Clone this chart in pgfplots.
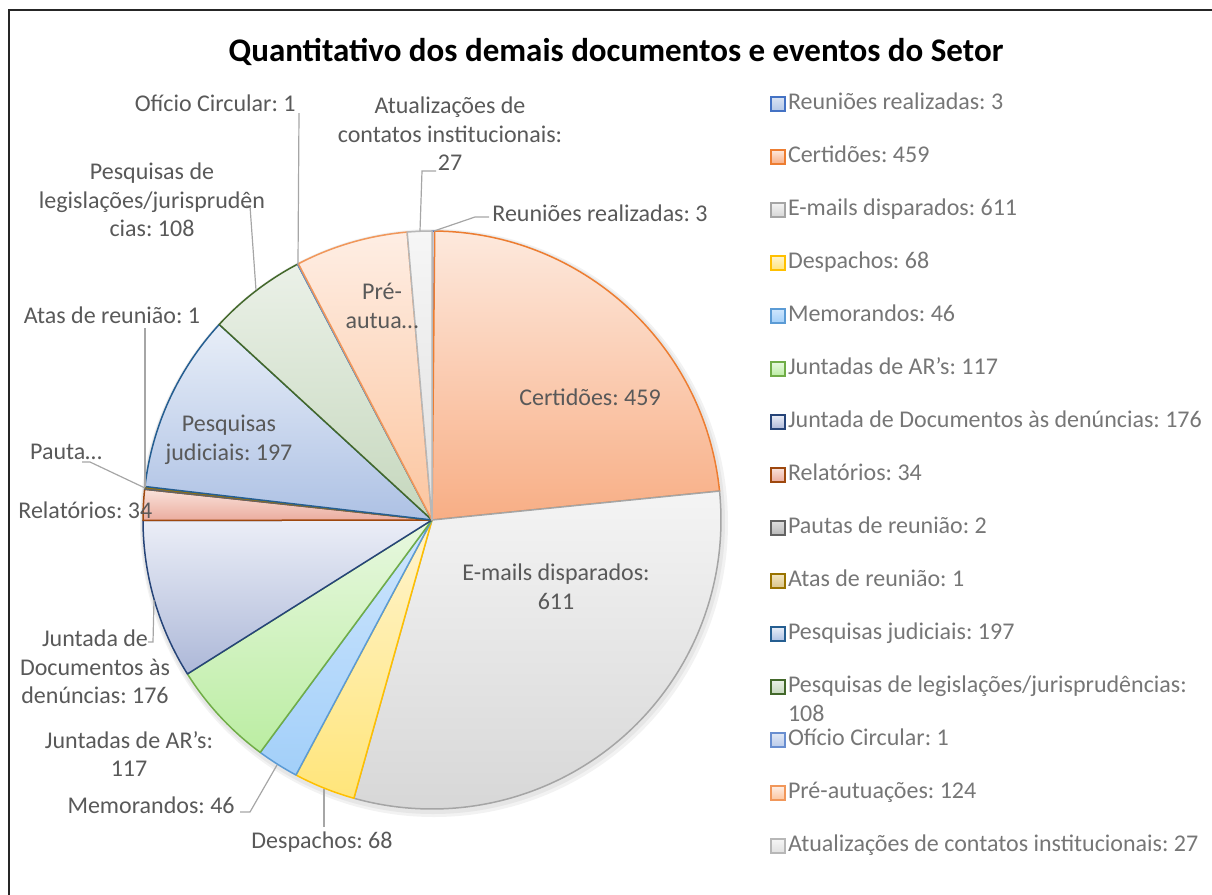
\documentclass[border=0pt]{standalone}
\usepackage{fontspec}
\setmainfont{Carlito}
\usepackage{pgfplots}
\usepackage{pgfplotstable}
\pgfplotsset{compat=1.18}
\frenchspacing

% slice colours: d = border, t = top of gradient, b = bottom of gradient
\definecolor{dA}{HTML}{4472C4}\definecolor{tA}{HTML}{DAE3F3}\definecolor{bA}{HTML}{B4C7E7}
\definecolor{dB}{HTML}{ED7D31}\definecolor{tB}{HTML}{FDE9DD}\definecolor{bB}{HTML}{F8AE85}
\definecolor{dC}{HTML}{A5A5A5}\definecolor{tC}{HTML}{F4F4F4}\definecolor{bC}{HTML}{D6D6D6}
\definecolor{dD}{HTML}{FFC000}\definecolor{tD}{HTML}{FFF4CF}\definecolor{bD}{HTML}{FFE57A}
\definecolor{dE}{HTML}{5B9BD5}\definecolor{tE}{HTML}{CFE6FD}\definecolor{bE}{HTML}{A2CFF9}
\definecolor{dF}{HTML}{70AD47}\definecolor{tF}{HTML}{E8F8E0}\definecolor{bF}{HTML}{BBEDA2}
\definecolor{dG}{HTML}{264478}\definecolor{tG}{HTML}{EBEEF7}\definecolor{bG}{HTML}{ADB8D8}
\definecolor{dH}{HTML}{9E480E}\definecolor{tH}{HTML}{F9E2DB}\definecolor{bH}{HTML}{EBAC9E}
\definecolor{dI}{HTML}{636363}\definecolor{tI}{HTML}{E0E0E0}\definecolor{bI}{HTML}{B8B8B8}
\definecolor{dJ}{HTML}{997300}\definecolor{tJ}{HTML}{F3E6C0}\definecolor{bJ}{HTML}{D9C489}
\definecolor{dK}{HTML}{255E91}\definecolor{tK}{HTML}{E8EEF8}\definecolor{bK}{HTML}{ADC1E4}
\definecolor{dL}{HTML}{43682B}\definecolor{tL}{HTML}{EBF1E8}\definecolor{bL}{HTML}{C5D7BD}
\definecolor{dM}{HTML}{698ED0}\definecolor{tM}{HTML}{E1E8F6}\definecolor{bM}{HTML}{BACBEA}
\definecolor{dN}{HTML}{F1975A}\definecolor{tN}{HTML}{FEEEE4}\definecolor{bN}{HTML}{FCC59F}
\definecolor{dO}{HTML}{B7B7B7}\definecolor{tO}{HTML}{F6F6F6}\definecolor{bO}{HTML}{E0E0E0}
\definecolor{labtext}{HTML}{595959}
\definecolor{legtext}{HTML}{767676}
\definecolor{leader}{HTML}{A6A6A6}

% counts, clockwise from 12 o'clock
\pgfplotstableread{
value key
3   A
459 B
611 C
68  D
46  E
117 F
176 G
34  H
2   I
1   J
197 K
108 L
1   M
124 N
27  O
}\piedata

\newcommand{\lab}{\fontsize{12}{14.3}\selectfont}
\def\R{144.5pt}% 289 px

\begin{document}
\begin{tikzpicture}
\begin{axis}[
  name=ax, hide axis, scale only axis,
  width=606pt, height=447.5pt,
  xmin=0, xmax=1212, ymin=0, ymax=895, y dir=reverse,
  clip=false,
  legend image code/.code={\draw[#1, line width=0.6pt] (0pt,-3.5pt) rectangle (7pt,3.5pt);},
  legend cell align=left,
  legend style={at={(axis cs:764,87.5)}, anchor=north west, draw=none, fill=none,
    font=\fontsize{12}{14.5}\selectfont, text=legtext, row sep=14.5pt,
    nodes={inner xsep=1.2pt, inner ysep=0pt, text height=9pt, text depth=3pt}},
]
% soft shadow under the pie
\fill[black, opacity=0.05] (axis cs:434,523) circle[radius=147pt];
\fill[black, opacity=0.05] (axis cs:433,522) circle[radius=146pt];

% total of all slices
\def\total{0}
\pgfplotsforeachungrouped \i in {0,...,14}{%
  \pgfplotstablegetelem{\i}{value}\of\piedata
  \pgfmathsetmacro\total{\total+\pgfplotsretval}}
% slices
\def\cum{0}
\pgfplotsforeachungrouped \i in {0,...,14}{%
  \pgfplotstablegetelem{\i}{value}\of\piedata \let\v\pgfplotsretval
  \pgfplotstablegetelem{\i}{key}\of\piedata \let\k\pgfplotsretval
  \pgfmathsetmacro\aS{90-360*(\cum/\total)}%
  \pgfmathsetmacro\cum{\cum+\v}%
  \pgfmathsetmacro\aE{90-360*(\cum/\total)}%
  \edef\temp{\noexpand\draw[draw=d\k, line width=0.75pt, line join=round, top color=t\k, bottom color=b\k]
    (axis cs:432,520) -- ++(\aS:\noexpand\R) arc[start angle=\aS, end angle=\aE, radius=\noexpand\R] -- cycle;}%
  \temp
}

% legend
\addlegendimage{draw=dA, top color=tA, bottom color=bA}\addlegendentry{Reuniões realizadas: 3}
\addlegendimage{draw=dB, top color=tB, bottom color=bB}\addlegendentry{Certidões: 459}
\addlegendimage{draw=dC, top color=tC, bottom color=bC}\addlegendentry{E-mails disparados: 611}
\addlegendimage{draw=dD, top color=tD, bottom color=bD}\addlegendentry{Despachos: 68}
\addlegendimage{draw=dE, top color=tE, bottom color=bE}\addlegendentry{Memorandos: 46}
\addlegendimage{draw=dF, top color=tF, bottom color=bF}\addlegendentry{Juntadas de AR’s: 117}
\addlegendimage{draw=dG, top color=tG, bottom color=bG}\addlegendentry{Juntada de Documentos às denúncias: 176}
\addlegendimage{draw=dH, top color=tH, bottom color=bH}\addlegendentry{Relatórios: 34}
\addlegendimage{draw=dI, top color=tI, bottom color=bI}\addlegendentry{Pautas de reunião: 2}
\addlegendimage{draw=dJ, top color=tJ, bottom color=bJ}\addlegendentry{Atas de reunião: 1}
\addlegendimage{draw=dK, top color=tK, bottom color=bK}\addlegendentry{Pesquisas judiciais: 197}
\addlegendimage{draw=dL, top color=tL, bottom color=bL}\addlegendentry{\smash{\begin{tabular}[t]{@{}l@{}}Pesquisas de legislações/jurisprudências:\\108\end{tabular}}}
\addlegendimage{draw=dM, top color=tM, bottom color=bM}\addlegendentry{Ofício Circular: 1}
\addlegendimage{draw=dN, top color=tN, bottom color=bN}\addlegendentry{Pré-autuações: 124}
\addlegendimage{draw=dO, top color=tO, bottom color=bO}\addlegendentry{Atualizações de contatos institucionais: 27}

% leader lines
\draw[leader, line width=0.6pt] (axis cs:299,113) -- (axis cs:298,264);
\draw[leader, line width=0.6pt] (axis cs:436,171) -- (axis cs:422,171) -- (axis cs:420,231);
\draw[leader, line width=0.6pt] (axis cs:489,217) -- (axis cs:475,217) -- (axis cs:434,231);
\draw[leader, line width=0.6pt] (axis cs:246,206) -- (axis cs:250,206) -- (axis cs:256,290);
\draw[leader, line width=0.6pt] (axis cs:145,328) -- (axis cs:145,487);
\draw[leader, line width=0.6pt] (axis cs:82,462) -- (axis cs:90,462) -- (axis cs:145,488);
\draw[leader, line width=0.6pt] (axis cs:148,642) -- (axis cs:153,642) -- (axis cs:154,600);
\draw[leader, line width=0.6pt] (axis cs:240,812) -- (axis cs:250,812) -- (axis cs:277,765);
\draw[leader, line width=0.6pt] (axis cs:324,827) -- (axis cs:324,789);

% data labels
\begin{scope}[every node/.style={font=\lab, text=labtext, inner sep=0pt, align=center}]
\node[anchor=east] at (axis cs:296,103) {Ofício Circular: 1};
\node at (axis cs:450,134) {Atualizações de\\contatos institucionais:\\27};
\node[anchor=west] at (axis cs:492,213) {Reuniões realizadas: 3};
\node at (axis cs:152,200) {Pesquisas de\\legislações/jurisprudên\\cias: 108};
\node at (axis cs:112,315) {Atas de reunião: 1};
\node at (axis cs:66,452) {Pauta…};
\node[anchor=west] at (axis cs:18,510) {Relatórios: 34};
\node at (axis cs:229,440) {Pesquisas\\judiciais: 197};
\node at (axis cs:382,306) {Pré-\\autua…};
\node at (axis cs:590,397) {Certidões: 459};
\node at (axis cs:556,587) {E-mails disparados:\\611};
\node at (axis cs:95,667) {Juntada de\\Documentos às\\denúncias: 176};
\node at (axis cs:129,754) {Juntadas de AR’s:\\117};
\node[anchor=east] at (axis cs:235,805) {Memorandos: 46};
\node at (axis cs:322,842) {Despachos: 68};
\end{scope}

% title and frame
\node[font=\fontsize{16.5}{19}\selectfont\bfseries, text=black] at (axis cs:616,52) {Quantitativo dos demais documentos e eventos do Setor};
\draw[line width=1pt, black!85] (axis cs:9,895) -- (axis cs:9,10) -- (axis cs:1212,10);
\end{axis}
\pgfresetboundingbox
\path (ax.south west) rectangle (ax.north east);
\end{tikzpicture}
\end{document}
